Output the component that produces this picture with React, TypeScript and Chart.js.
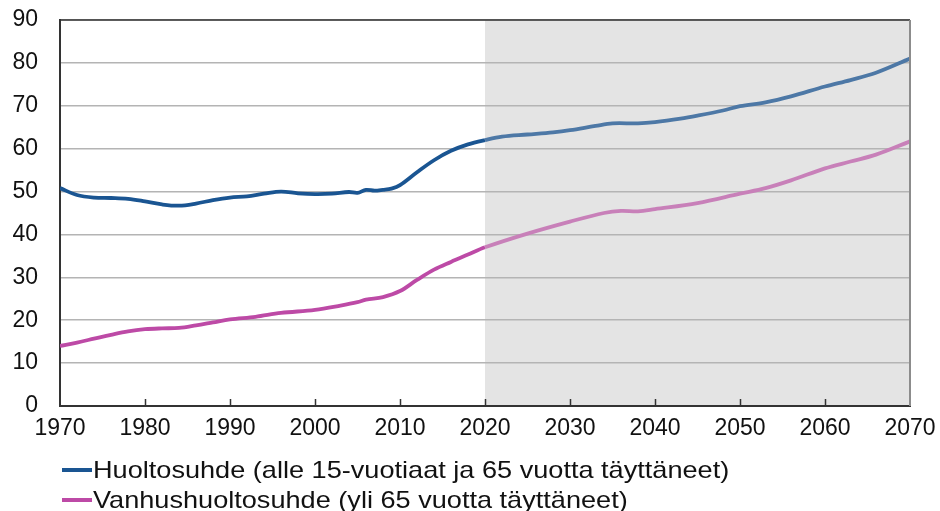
import React, { useEffect, useRef } from "react";
import { Chart, registerables } from "chart.js";

Chart.register(...registerables);

const years1 = [1970, 1972, 1974, 1976, 1978, 1980, 1982, 1984, 1986, 1988, 1990, 1992, 1994, 1996, 1998, 2000, 2002, 2004, 2005, 2006, 2007, 2008, 2009, 2010, 2012, 2014, 2016, 2018, 2020, 2022, 2025, 2028, 2030, 2033, 2035, 2038, 2040, 2043, 2045, 2048, 2050, 2053, 2056, 2060, 2063, 2066, 2070];
const huoltosuhde = [50.8, 49.2, 48.6, 48.5, 48.3, 47.7, 47.0, 46.7, 47.2, 48.0, 48.6, 48.9, 49.5, 50.0, 49.6, 49.4, 49.5, 49.9, 49.7, 50.4, 50.2, 50.4, 50.7, 51.5, 54.5, 57.3, 59.5, 61.0, 62.0, 62.8, 63.3, 63.8, 64.3, 65.3, 65.9, 65.9, 66.2, 67.0, 67.7, 68.9, 69.9, 70.8, 72.2, 74.5, 76.0, 77.7, 81.0];

const years2 = [1970, 1972, 1974, 1976, 1978, 1980, 1982, 1984, 1986, 1988, 1990, 1993, 1996, 2000, 2003, 2005, 2006, 2008, 2010, 2012, 2014, 2016, 2018, 2020, 2025, 2030, 2034, 2036, 2038, 2040, 2045, 2050, 2053, 2056, 2060, 2063, 2066, 2070];
const vanhushuoltosuhde = [14.0, 14.8, 15.7, 16.6, 17.4, 17.9, 18.1, 18.2, 18.8, 19.5, 20.2, 20.8, 21.7, 22.4, 23.4, 24.2, 24.8, 25.4, 26.8, 29.4, 31.8, 33.6, 35.3, 37.0, 40.2, 43.0, 45.0, 45.5, 45.4, 45.9, 47.3, 49.5, 50.8, 52.6, 55.4, 57.0, 58.6, 61.7];

const forecastStart = 2020;
const xMin = 1970;
const xMax = 2070;
const yMax = 90;

const labels = [
  "Huoltosuhde (alle 15-vuotiaat ja 65 vuotta täyttäneet)",
  "Vanhushuoltosuhde (yli 65 vuotta täyttäneet)",
];

const BLUE = "#1a5592";
const BLUE_LIGHT = "#4d78a6";
const PINK = "#bd4aa6";
const PINK_LIGHT = "#c880b9";
const FONT = "'Liberation Sans', Arial, sans-serif";

const framePlugin = {
  id: "frame",
  beforeDraw(chart: any) {
    const { ctx, chartArea, scales } = chart;
    const x0 = scales.x.getPixelForValue(forecastStart);
    ctx.save();
    ctx.fillStyle = "#e4e4e4";
    ctx.fillRect(x0, chartArea.top, chartArea.right - x0, chartArea.bottom - chartArea.top);
    ctx.restore();
  },
  afterDraw(chart: any) {
    const { ctx, chartArea, scales } = chart;
    ctx.save();
    ctx.strokeStyle = "#333333";
    ctx.lineWidth = 1.5;
    ctx.beginPath();
    ctx.moveTo(chartArea.left, chartArea.top);
    ctx.lineTo(chartArea.right, chartArea.top);
    ctx.stroke();
    ctx.strokeStyle = "#8c8c8c";
    ctx.lineWidth = 2;
    ctx.beginPath();
    ctx.moveTo(chartArea.right, chartArea.top);
    ctx.lineTo(chartArea.right, chartArea.bottom);
    ctx.stroke();
    ctx.strokeStyle = "#333333";
    ctx.lineWidth = 1.5;
    for (let v = xMin + 10; v < xMax; v += 10) {
      const px = Math.round(scales.x.getPixelForValue(v)) + 0.5;
      ctx.beginPath();
      ctx.moveTo(px, chartArea.bottom);
      ctx.lineTo(px, chartArea.bottom - 7);
      ctx.stroke();
    }
    ctx.restore();
  },
};

export default function App() {
  const ref = useRef<HTMLCanvasElement | null>(null);

  useEffect(() => {
    document.body.style.margin = "0";
    const seg = (dark: string, light: string) => ({
      borderColor: (c: any) => (c.p0.parsed.x >= forecastStart ? light : dark),
    });
    const chart = new Chart(ref.current as HTMLCanvasElement, {
      type: "line",
      data: {
        datasets: [
          {
            label: labels[0],
            data: years1.map((x, i) => ({ x, y: huoltosuhde[i] })),
            borderColor: BLUE,
            borderWidth: 3.8,
            pointRadius: 0,
            tension: 0.35,
            segment: seg(BLUE, BLUE_LIGHT),
          },
          {
            label: labels[1],
            data: years2.map((x, i) => ({ x, y: vanhushuoltosuhde[i] })),
            borderColor: PINK,
            borderWidth: 3.8,
            pointRadius: 0,
            tension: 0.35,
            segment: seg(PINK, PINK_LIGHT),
          },
        ],
      },
      options: {
        animation: false,
        responsive: false,
        maintainAspectRatio: false,
        layout: { padding: { left: 0, top: 20, right: 30, bottom: 65 } },
        plugins: { legend: { display: false }, tooltip: { enabled: false } },
        scales: {
          x: {
            type: "linear",
            min: xMin,
            max: xMax,
            ticks: {
              stepSize: 10,
              color: "#111",
              font: { size: 23, family: FONT },
              padding: 9,
              callback: (v: any) => String(v),
              maxRotation: 0,
            },
            grid: { display: false, drawTicks: false },
            border: { display: true, color: "#333333", width: 2 },
            afterFit: (s: any) => {
              s.height = 40;
              s.paddingLeft = 0;
              s.paddingRight = 0;
            },
          },
          y: {
            min: 0,
            max: yMax,
            ticks: {
              stepSize: 10,
              color: "#111",
              font: { size: 23, family: FONT },
              padding: 22,
            },
            grid: { color: "#b4b4b4", lineWidth: 1.5, drawTicks: false },
            border: { display: true, color: "#333333", width: 2 },
            afterFit: (s: any) => {
              s.width = 60;
              s.paddingTop = 0;
              s.paddingBottom = 0;
            },
          },
        },
      },
      plugins: [framePlugin],
    });
    return () => chart.destroy();
  }, []);

  const legendItem = (color: string, text: string) => (
    <div style={{ display: "flex", alignItems: "center", height: 30 }}>
      <span style={{ display: "inline-block", width: 30, height: 3.8, background: color, marginRight: 1 }} />
      <span style={{ display: "inline-block", transform: "scaleX(1.13)", transformOrigin: "left center" }}>{text}</span>
    </div>
  );

  return (
    <div style={{ position: "relative", width: 940, height: 511, background: "#fff", overflow: "hidden" }}>
      <canvas ref={ref} width={940} height={511} style={{ display: "block" }} />
      <div
        style={{
          position: "absolute",
          left: 62,
          top: 455,
          fontFamily: FONT,
          fontSize: 24,
          color: "#111",
          lineHeight: "30px",
          whiteSpace: "nowrap",
        }}
      >
        {legendItem(BLUE, labels[0])}
        {legendItem(PINK, labels[1])}
      </div>
    </div>
  );
}
